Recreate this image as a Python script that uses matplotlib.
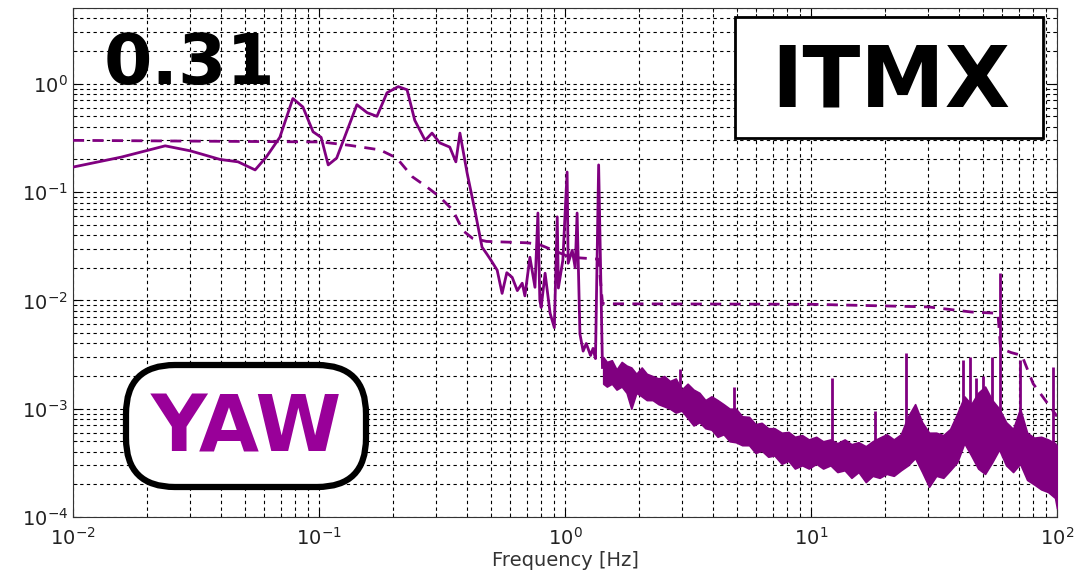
import matplotlib
matplotlib.use("Agg")
import matplotlib.pyplot as plt
from matplotlib.patches import FancyBboxPatch, Rectangle

# ---------------- data ----------------
lf_freq = [0.010, 0.0157, 0.0237, 0.030, 0.0396, 0.0469, 0.055, 0.061, 0.0693, 0.0783,
           0.086, 0.0946, 0.102, 0.109, 0.118, 0.1426, 0.157, 0.172, 0.189, 0.21,
           0.228, 0.245, 0.27, 0.288, 0.31, 0.34, 0.36, 0.374, 0.40, 0.43,
           0.46, 0.48, 0.50, 0.53, 0.555, 0.58, 0.61, 0.64, 0.67, 0.687,
           0.72, 0.755, 0.776, 0.79, 0.80, 0.83, 0.87, 0.905, 0.93, 0.94,
           0.98, 1.02, 1.03, 1.07, 1.10, 1.12, 1.15, 1.185, 1.22, 1.27, 1.30, 1.33, 1.37, 1.42]
lf_asd = [0.17, 0.21, 0.267, 0.24, 0.20, 0.19, 0.16, 0.21, 0.32, 0.73,
          0.61, 0.36, 0.32, 0.178, 0.206, 0.64, 0.54, 0.50, 0.825, 0.94,
          0.88, 0.46, 0.30, 0.35, 0.284, 0.26, 0.19, 0.35, 0.15, 0.068,
          0.031, 0.027, 0.0235, 0.019, 0.0116, 0.018, 0.0163, 0.0123, 0.0144, 0.011,
          0.025, 0.0132, 0.064, 0.010, 0.0086, 0.0178, 0.0076, 0.0056, 0.059, 0.013,
          0.0235, 0.153, 0.022, 0.029, 0.020, 0.064, 0.0049, 0.0034, 0.0040, 0.0031, 0.0036, 0.0029, 0.178, 0.0024]

band_freq = [1.43, 1.48, 1.55, 1.62, 1.70, 1.78, 1.86, 1.95, 2.05, 2.15,
             2.27, 2.40, 2.53, 2.67, 2.82, 2.98, 3.15, 3.33, 3.52, 3.72,
             3.94, 4.17, 4.41, 4.67, 4.95, 5.25, 5.6, 5.95, 6.3, 6.7,
             7.1, 7.6, 8.1, 8.6, 9.2, 9.8, 10.5, 11.2, 12.0, 12.8,
             13.7, 14.6, 15.6, 16.7, 17.8, 19.0, 20.3, 21.7, 23.2, 24.8,
             26.5, 28.3, 30.2, 32.3, 34.5, 36.8, 39.3, 42.0, 44.8, 47.8,
             51.0, 54.5, 58.2, 62.1, 66.3, 70.8, 75.6, 80.7, 86.2, 92.0,
             98.2, 100.0]
band_top = [0.0030, 0.0027, 0.0028, 0.0023, 0.0027, 0.0025, 0.0024, 0.0021, 0.0024, 0.0021,
            0.0020, 0.0019, 0.0020, 0.0018, 0.0019, 0.0015, 0.0017, 0.0015, 0.0014, 0.0012,
            0.0013, 0.0012, 0.00110, 0.00100, 0.0010, 0.00085, 0.00084, 0.00072, 0.00074, 0.00066,
            0.00066, 0.00060, 0.00061, 0.00055, 0.00057, 0.00052, 0.00055, 0.00050, 0.00052, 0.00048,
            0.00052, 0.00047, 0.00049, 0.00045, 0.00050, 0.00054, 0.00058, 0.00052, 0.00058, 0.00085,
            0.00110, 0.00075, 0.00060, 0.00060, 0.00057, 0.00065, 0.00090, 0.0013, 0.0011, 0.0014,
            0.0016, 0.0012, 0.0010, 0.00075, 0.00065, 0.0010, 0.00060, 0.00054, 0.00055, 0.00052,
            0.00048, 0.00045]
band_bot = [0.0017, 0.0016, 0.0017, 0.0015, 0.0016, 0.0014, 0.0010, 0.0014, 0.0013, 0.0012,
            0.0012, 0.0011, 0.00105, 0.0010, 0.00092, 0.00096, 0.00082, 0.00070, 0.00075, 0.00066,
            0.00064, 0.00055, 0.00058, 0.00050, 0.00049, 0.00046, 0.00046, 0.00039, 0.00041, 0.00036,
            0.00037, 0.00031, 0.00033, 0.00028, 0.00030, 0.00028, 0.00031, 0.00028, 0.00030, 0.00026,
            0.00027, 0.00023, 0.00026, 0.00021, 0.00024, 0.00023, 0.00025, 0.00024, 0.00027, 0.00030,
            0.00035, 0.00026, 0.00019, 0.00024, 0.00023, 0.00027, 0.00032, 0.00048, 0.00037, 0.00028,
            0.00025, 0.00032, 0.00042, 0.00030, 0.00026, 0.00031, 0.00022, 0.00020, 0.00018, 0.00017,
            0.00015, 0.00012]

spike_freq = [2.93, 4.86, 12.2, 18.2, 24.3, 41.6, 44.3, 47.0, 50.0, 54.5, 58.6, 70.8, 96.4]
spike_top = [0.0023, 0.00157, 0.0019, 0.00096, 0.0033, 0.0028, 0.0030, 0.0019, 0.0020, 0.0030, 0.0178, 0.0028, 0.0024]
spike_base = [0.0012, 0.0008, 0.0004, 0.0004, 0.0004, 0.0006, 0.0005, 0.0005, 0.0005, 0.0004, 0.0005, 0.0004, 0.0003]

rms_freq = [0.01, 0.102, 0.133, 0.177, 0.207, 0.24, 0.275, 0.31, 0.35, 0.385,
            0.42, 0.48, 0.70, 0.78, 1.05, 1.37, 1.42, 1.45, 10.0, 30.0,
            45.0, 57.5, 59.0, 65.0, 72.0, 80.0, 90.0, 100.0]
rms_val = [0.30, 0.29, 0.27, 0.245, 0.206, 0.138, 0.111, 0.09, 0.068, 0.044,
           0.0375, 0.035, 0.034, 0.033, 0.025, 0.024, 0.0094, 0.0093, 0.0092, 0.0087,
           0.0078, 0.0076, 0.0036, 0.0033, 0.0031, 0.0017, 0.00118, 0.00085]

value_text = "0.31"
optic_text = "ITMX"
dof_text = "YAW"

line_color = "#800080"
dof_color = "#990099"

# ---------------- figure ----------------
fig = plt.figure(figsize=(10.86, 5.79), dpi=100)
ax = fig.add_axes([73/1086, 1-517/579, (1057-73)/1086, (517-8)/579])
ax.set_xscale("log")
ax.set_yscale("log")
ax.set_xlim(1e-2, 1e2)
ax.set_ylim(1e-4, 5)

ax.plot(lf_freq, lf_asd, color=line_color, lw=2.0, zorder=3)
ax.fill_between(band_freq, band_bot, band_top, color=line_color, lw=1.2,
                edgecolor=line_color, zorder=3)
ax.vlines(spike_freq, spike_base, spike_top, color=line_color, lw=2.0, zorder=3)
ax.plot(rms_freq, rms_val, color=line_color, lw=2.0, ls=(0, (4, 3)), zorder=3)

ax.grid(True, which="both", color="black", ls=(0, (3, 3)), lw=0.8)
ax.tick_params(which="both", direction="in", top=True, right=True, labelsize=14,
               labelcolor="#222222")
ax.tick_params(axis="x", which="major", pad=7)
ax.tick_params(which="major", length=6)
ax.tick_params(which="minor", length=3)
for s in ax.spines.values():
    s.set_color("#333333")
ax.set_xlabel("Frequency [Hz]", fontsize=14, color="#333333", labelpad=2)

# annotations
ax.text(0.031, 0.955, value_text, transform=ax.transAxes, fontsize=50,
        fontweight="bold", ha="left", va="top", color="black", zorder=6)

# faint legend frame behind ITMX box
fig.patches.append(FancyBboxPatch((735/1086, 1-80/579), (1045-735)/1086, (80-17)/579,
                                  boxstyle="round,pad=0,rounding_size=0.006",
                                  transform=fig.transFigure, facecolor="white",
                                  edgecolor="#aaaaaa", lw=1.0, zorder=5))
fig.patches.append(Rectangle((735/1086, 1-138/579), (1043-735)/1086, (138-17)/579,
                             transform=fig.transFigure, facecolor="white",
                             edgecolor="black", lw=2.0, zorder=6))
fig.text((735+1043)/2/1086 + 0.002, 1-83/579, optic_text, fontsize=61, fontweight="bold",
         ha="center", va="center", color="black", zorder=7)

fig.patches.append(FancyBboxPatch((126/1086, 1-487/579), (366-126)/1086, (487-365)/579,
                                  boxstyle="round,pad=0,rounding_size=0.045",
                                  transform=fig.transFigure, facecolor="white",
                                  edgecolor="black", lw=4.5, zorder=6,
                                  mutation_aspect=1086/579))
fig.text((126+366)/2/1086, 1-430/579, dof_text, fontsize=56, fontweight="bold",
         ha="center", va="center", color=dof_color, zorder=7)

fig.savefig("out.png", dpi=100)
